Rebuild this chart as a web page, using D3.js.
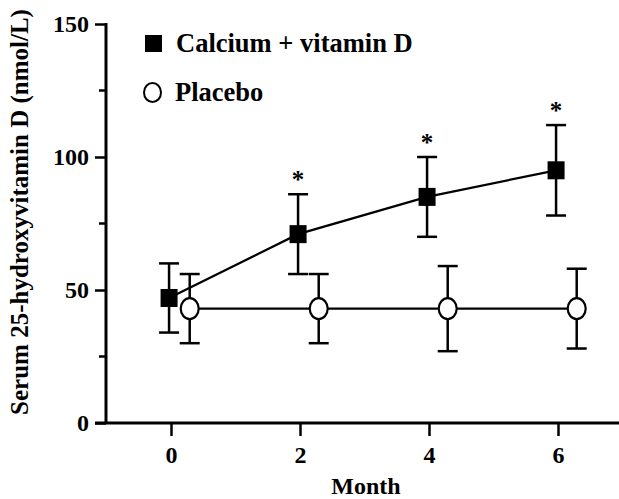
<!DOCTYPE html>
<html>
<head>
<meta charset="utf-8">
<script src="https://cdn.jsdelivr.net/npm/d3@7"></script>
<style>
  body { margin: 0; background: #fff; }
  svg text { font-family: "Liberation Serif", "Times New Roman", serif; font-weight: bold; fill: #000; }
</style>
</head>
<body>
<svg id="chart" width="619" height="499"></svg>
<script>
const months = [0, 2, 4, 6];
const calciumMean = [47, 71, 85, 95];
const calciumErr = [13, 15, 15, 17];
const calciumSig = [false, true, true, true];
const placeboMean = [43, 43, 43, 43];
const placeboErr = [13, 13, 16, 15];
const yTicks = [0, 50, 100, 150];
const yMinorTicks = [25, 75, 125];
const seriesNames = ['Calcium + vitamin D', 'Placebo'];

const svg = d3.select('#chart');
const x = d3.scaleLinear().domain([0, 6]).range([171, 558]);
const y = d3.scaleLinear().domain([0, 150]).range([423, 24]);
const dodge = { calcium: -0.03, placebo: 0.29 };

const calcium = months.map((m, i) => ({ m: m + dodge.calcium, v: calciumMean[i], e: calciumErr[i], sig: calciumSig[i] }));
const placebo = months.map((m, i) => ({ m: m + dodge.placebo, v: placeboMean[i], e: placeboErr[i] }));

// axes
const yAxis = svg.append('g')
  .attr('transform', 'translate(106,0)')
  .call(d3.axisLeft(y).tickValues(yTicks).tickSize(11).tickPadding(6).tickSizeOuter(0));
yAxis.select('.domain').remove();
yAxis.selectAll('line').attr('stroke-width', 2.5);
yAxis.selectAll('text').attr('font-size', 24).style('font-family', null);

svg.append('g').selectAll('line').data(yMinorTicks).join('line')
  .attr('x1', 99).attr('x2', 106)
  .attr('y1', d => y(d)).attr('y2', d => y(d))
  .attr('stroke', '#000').attr('stroke-width', 2.5);

svg.append('line')
  .attr('x1', 106).attr('x2', 106).attr('y1', y(150) - 1).attr('y2', y(0))
  .attr('stroke', '#000').attr('stroke-width', 3);

const xAxis = svg.append('g')
  .attr('transform', `translate(0,${y(0)})`)
  .call(d3.axisBottom(x).tickValues(months).tickFormat(d3.format('d'))
    .tickSize(13).tickPadding(10).tickSizeOuter(0));
xAxis.select('.domain').remove();
xAxis.selectAll('line').attr('stroke-width', 2.5);
xAxis.selectAll('text').attr('font-size', 24).style('font-family', null);

svg.append('line')
  .attr('x1', 95).attr('x2', 619).attr('y1', y(0)).attr('y2', y(0))
  .attr('stroke', '#000').attr('stroke-width', 3);

svg.append('text')
  .attr('x', 366).attr('y', 494).attr('text-anchor', 'middle')
  .attr('font-size', 24).text('Month');

svg.append('text')
  .attr('transform', 'translate(28,212) rotate(-90)')
  .attr('text-anchor', 'middle')
  .attr('font-size', 25).text('Serum 25-hydroxyvitamin D (nmol/L)');

// lines
const line = d3.line().x(d => x(d.m)).y(d => y(d.v));
svg.append('path').datum(placebo).attr('d', line)
  .attr('fill', 'none').attr('stroke', '#000').attr('stroke-width', 2.2);
svg.append('path').datum(calcium).attr('d', line)
  .attr('fill', 'none').attr('stroke', '#000').attr('stroke-width', 2.2);

// error bars
function errorBars(data) {
  const g = svg.append('g').attr('stroke', '#000').attr('stroke-width', 2.5);
  data.forEach(d => {
    const cx = x(d.m);
    g.append('line').attr('x1', cx).attr('x2', cx).attr('y1', y(d.v + d.e)).attr('y2', y(d.v - d.e));
    g.append('line').attr('x1', cx - 10).attr('x2', cx + 10).attr('y1', y(d.v + d.e)).attr('y2', y(d.v + d.e));
    g.append('line').attr('x1', cx - 10).attr('x2', cx + 10).attr('y1', y(d.v - d.e)).attr('y2', y(d.v - d.e));
  });
}
errorBars(calcium);
errorBars(placebo);

// markers
svg.append('g').selectAll('rect').data(calcium).join('rect')
  .attr('x', d => x(d.m) - 8.5).attr('y', d => y(d.v) - 9)
  .attr('width', 17).attr('height', 18).attr('fill', '#000');

svg.append('g').selectAll('ellipse').data(placebo).join('ellipse')
  .attr('cx', d => x(d.m)).attr('cy', d => y(d.v))
  .attr('rx', 9).attr('ry', 10.5)
  .attr('fill', '#fff').attr('stroke', '#000').attr('stroke-width', 2.2);

// significance marks
svg.append('g').selectAll('text').data(calcium.filter(d => d.sig)).join('text')
  .attr('x', d => x(d.m)).attr('y', d => y(d.v + d.e) - 6)
  .attr('text-anchor', 'middle').attr('font-size', 25)
  .text('*');

// legend
svg.append('rect').attr('x', 145).attr('y', 35).attr('width', 17).attr('height', 17).attr('fill', '#000');
svg.append('ellipse').attr('cx', 152.5).attr('cy', 92.5).attr('rx', 8.5).attr('ry', 9.5)
  .attr('fill', '#fff').attr('stroke', '#000').attr('stroke-width', 2);
svg.append('text').attr('x', 176).attr('y', 52).attr('font-size', 26.5).text(seriesNames[0]);
svg.append('text').attr('x', 175).attr('y', 101).attr('font-size', 26.5).text(seriesNames[1]);
</script>
</body>
</html>
